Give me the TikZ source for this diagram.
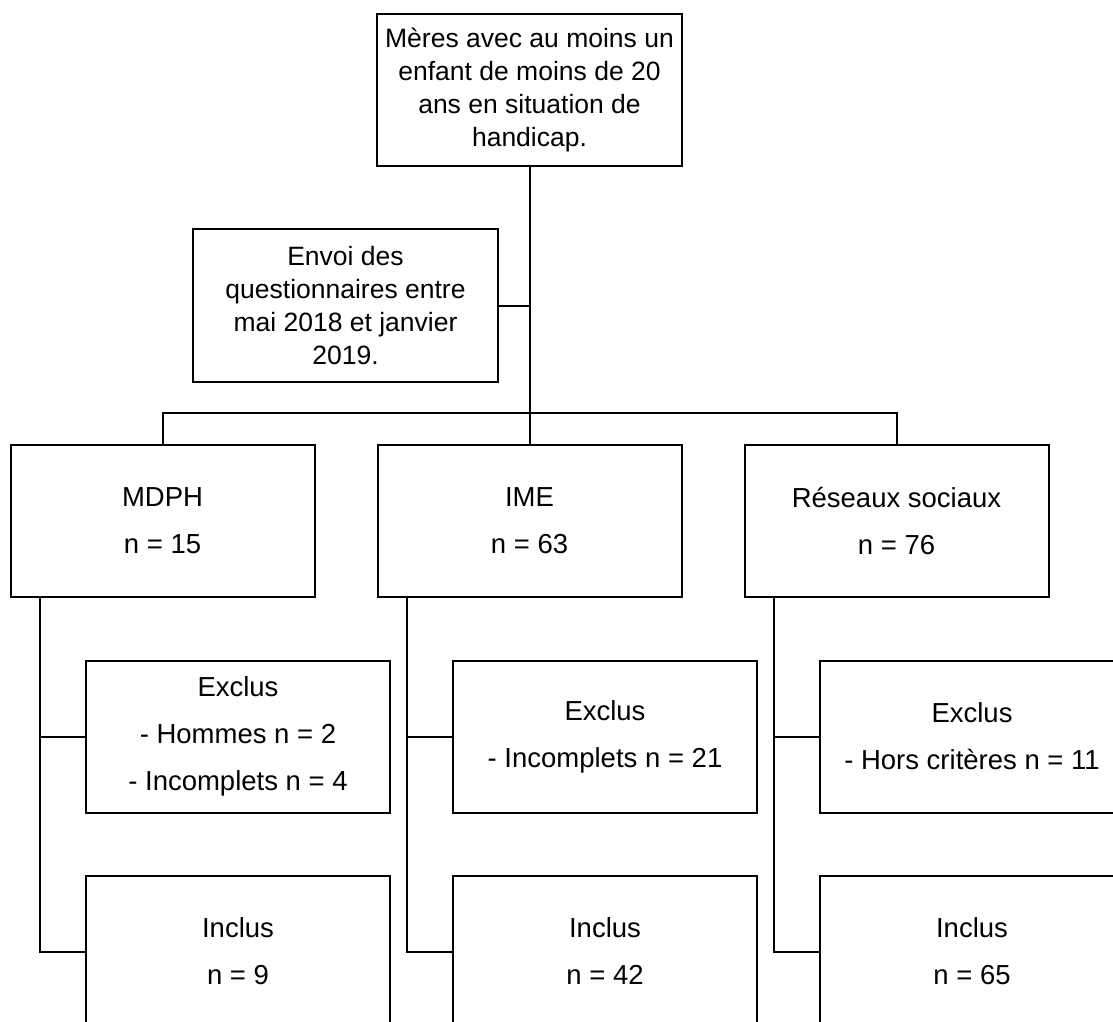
\documentclass[tikz,border=0pt]{standalone}
\usepackage{fontspec}
\setmainfont{Liberation Sans}
\begin{document}
\begin{tikzpicture}[x=1pt,y=-1pt,
  box/.style={draw, line width=2pt, rectangle, inner sep=0pt, align=center,
    minimum width=304pt, minimum height=152pt},
  toptext/.style={font=\fontsize{26.5}{33}\selectfont},
  lowtext/.style={font=\fontsize{27.5}{47}\selectfont},
  link/.style={line width=2pt}]
\clip (0,0) rectangle (1113,1021);
\useasboundingbox (0,0) rectangle (1113,1021);
% top boxes
\node[box, toptext, minimum width=305pt] (top) at (529.5,90) {Mères avec au moins un\\enfant de moins de 20\\ans en situation de\\handicap.};
\node[box, toptext, minimum width=305pt, minimum height=153pt] (envoi) at (345.5,305.5) {Envoi des\\questionnaires entre\\mai 2018 et janvier\\2019.};
% sources
\node[box, lowtext] (mdph) at (162.5,520.5) {MDPH\\n = 15};
\node[box, lowtext] (ime) at (529.5,520.5) {IME\\n = 63};
\node[box, lowtext] (res) at (896.5,520.5) {Réseaux sociaux\\n = 76};
% excluded
\node[box, lowtext] (mex) at (238,736.5) {Exclus\\- Hommes n = 2\\- Incomplets n = 4};
\node[box, lowtext] (iex) at (605,736.5) {Exclus\\- Incomplets n = 21};
\node[box, lowtext] (rex) at (972,736.5) {Exclus\\- Hors critères n = 11};
% included
\node[box, lowtext] (min) at (238,951.5) {Inclus\\n = 9};
\node[box, lowtext] (iin) at (605,951.5) {Inclus\\n = 42};
\node[box, lowtext] (rin) at (972,951.5) {Inclus\\n = 65};
% connectors
\coordinate (bus) at (529.5,413);
\draw[link] (top.south) -- (ime.north);
\draw[link] (envoi.east) -- (envoi.east -| top.south);
\draw[link] (mdph.north) -- (mdph.north |- bus) -- (res.north |- bus) -- (res.north);
\foreach \s/\e/\i in {mdph/mex/min, ime/iex/iin, res/rex/rin}{
  \draw[link] ([xshift=30pt]\s.south west) coordinate (v) -- (v |- \i.west) -- (\i.west);
  \draw[link] (v |- \e.west) -- (\e.west);
}
\end{tikzpicture}
\end{document}
